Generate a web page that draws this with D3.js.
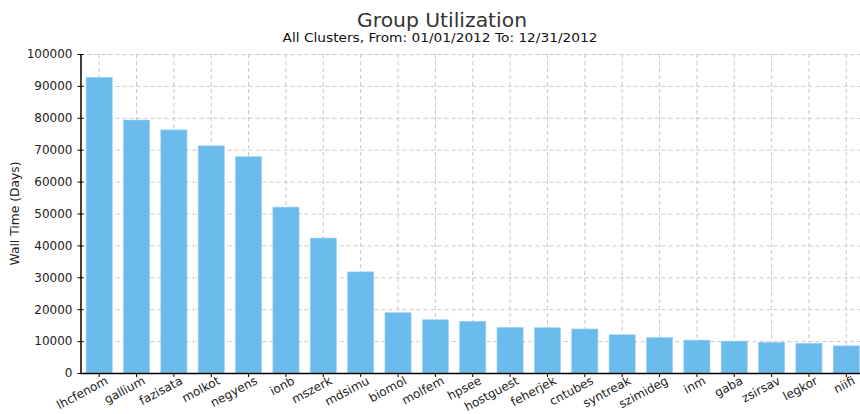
<!DOCTYPE html>
<html>
<head>
<meta charset="utf-8">
<script src="https://cdn.jsdelivr.net/npm/d3@7"></script>
<style>
  body { margin: 0; background: #fff; }
  svg { display: block; }
  svg text { font-family: "DejaVu Sans", Verdana, sans-serif; }
  .grid line { stroke: #c8c8c8; stroke-dasharray: 4,3; }
  .grid path { display: none; }
  .axis text { font-family: "DejaVu Sans", Verdana, sans-serif; font-size: 12px; fill: #222; }
  .axis path, .axis line { stroke: #000; }
</style>
</head>
<body>
<svg id="chart" width="860" height="414"></svg>
<script>
// Data
const groups = ["lhcfenom", "gallium", "fazisata", "molkot", "negyens", "ionb", "mszerk", "mdsimu",
  "biomol", "molfem", "hpsee", "hostguest", "feherjek", "cntubes", "syntreak", "szimideg",
  "inm", "gaba", "zsirsav", "legkor", "niifi"];
const wallDays = [92700, 79300, 76200, 71200, 67800, 52000, 42300, 31700,
  18900, 16700, 16200, 14300, 14200, 13800, 12000, 11100,
  10300, 10000, 9600, 9300, 8500];
const yTicks = [0, 10000, 20000, 30000, 40000, 50000, 60000, 70000, 80000, 90000, 100000];

const svg = d3.select("#chart");

// Plot area edges
const plot = { left: 80.5, right: 865, top: 54, bottom: 373 };

const x = d3.scaleBand()
  .domain(groups)
  .range([plot.left, plot.right])
  .paddingInner(0.3)
  .paddingOuter(0.15);

const y = d3.scaleLinear()
  .domain([0, 100000])
  .range([plot.bottom, plot.top]);

// Horizontal grid
svg.append("g")
  .attr("class", "grid")
  .attr("transform", `translate(${plot.left},0)`)
  .call(d3.axisLeft(y).tickValues(yTicks.slice(1)).tickSize(-(plot.right - plot.left)).tickFormat(""));

// Vertical grid at each category
svg.append("g")
  .attr("class", "grid")
  .attr("transform", `translate(0,${plot.bottom})`)
  .call(d3.axisBottom(x).tickSize(-(plot.bottom - plot.top)).tickFormat(""));

// Bars
svg.selectAll(".bar")
  .data(groups)
  .enter()
  .append("rect")
  .attr("class", "bar")
  .attr("x", d => x(d))
  .attr("width", x.bandwidth())
  .attr("y", (d, i) => y(wallDays[i]))
  .attr("height", (d, i) => y(0) - y(wallDays[i]))
  .attr("fill", "#6bbbec")
  .attr("stroke", "#9dd2f2")
  .attr("stroke-width", 0.6);

// Y axis
svg.append("g")
  .attr("class", "axis")
  .attr("transform", `translate(${plot.left},0)`)
  .call(d3.axisLeft(y).tickValues(yTicks).tickSize(4).tickSizeOuter(0).tickPadding(4).tickFormat(d3.format("d")))
  .call(g => g.select(".domain").attr("stroke-width", 1.5))
  .call(g => g.selectAll(".tick line").attr("x2", 3).attr("x1", -3));

// X axis
const xAxis = svg.append("g")
  .attr("class", "axis")
  .attr("transform", `translate(0,${plot.bottom})`)
  .call(d3.axisBottom(x).tickSize(4).tickSizeOuter(0))
  .call(g => g.select(".domain").attr("stroke-width", 1.5));

xAxis.selectAll("text")
  .attr("text-anchor", "end")
  .attr("dx", "0.3em")
  .attr("dy", "0.55em")
  .attr("transform", "rotate(-28)");

// Titles
svg.append("text")
  .attr("x", 442)
  .attr("y", 27)
  .attr("text-anchor", "middle")
  .attr("font-size", 19)
  .attr("fill", "#333")
  .attr("textLength", 170)
  .attr("lengthAdjust", "spacingAndGlyphs")
  .text("Group Utilization");

svg.append("text")
  .attr("x", 440)
  .attr("y", 42)
  .attr("text-anchor", "middle")
  .attr("font-size", 12.5)
  .attr("fill", "#111")
  .attr("textLength", 315)
  .attr("lengthAdjust", "spacingAndGlyphs")
  .text("All Clusters, From: 01/01/2012 To: 12/31/2012");

// Y axis label
svg.append("text")
  .attr("transform", "rotate(-90)")
  .attr("x", -(plot.top + plot.bottom) / 2)
  .attr("y", 19)
  .attr("text-anchor", "middle")
  .attr("font-size", 12.3)
  .attr("fill", "#222")
  .text("Wall Time (Days)");
</script>
</body>
</html>
